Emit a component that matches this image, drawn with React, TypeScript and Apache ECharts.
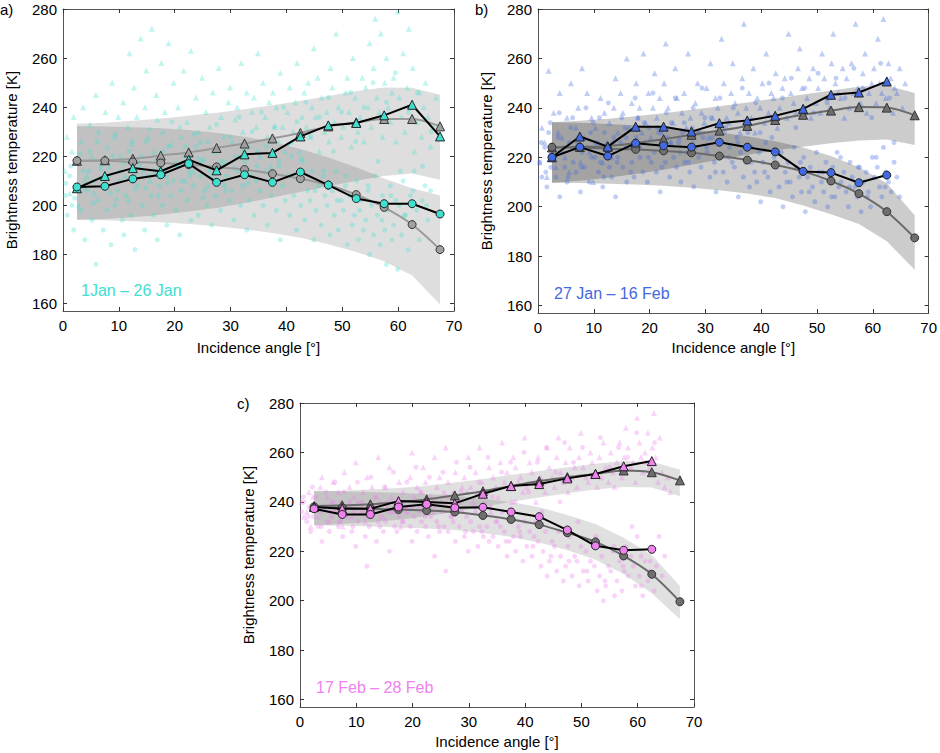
import { useEffect, useRef } from "react";
import * as echarts from "echarts";

// incidence angle bin centres (deg)
const angleBins = [2.5, 7.5, 12.5, 17.5, 22.5, 27.5, 32.5, 37.5, 42.5, 47.5, 52.5, 57.5, 62.5, 67.5];
const yTicks = [160, 180, 200, 220, 240, 260, 280];

// ---- panel a) 1 Jan - 26 Jan
const aTriObs = [207, 212, 215.2, 213.9, 218.6, 214.3, 220.8, 221.4, 228.1, 232.6, 233.6, 236.7, 241.0, 228.1];
const aCircObs = [207.5, 207.8, 210.8, 212.5, 217.0, 209.4, 212.5, 209.4, 213.6, 208.3, 202.8, 200.7, 200.7, 196.5];
const aTriFit = [218.2, 218.4, 219.0, 220.3, 221.6, 223.4, 225.2, 227.3, 229.5, 232.2, 233.8, 235.2, 235.2, 232.2];
const aCircFit = [218.2, 218.2, 217.7, 217.3, 216.6, 215.7, 214.6, 212.9, 210.9, 208.3, 204.4, 199.2, 192.2, 182.0];
const aTriBandHigh = [233.3, 233.7, 234.5, 235.4, 236.5, 237.7, 239.2, 240.8, 242.6, 244.6, 246.6, 248.0, 247.9, 245.1];
const aTriBandLow = [194.2, 194.5, 195.2, 196.2, 197.5, 199, 201, 203.2, 205.5, 207.8, 210, 212, 213, 210.5];
const aCircBandHigh = [232.2, 232.1, 231.8, 231.4, 230.7, 229.6, 228.0, 225.8, 223.0, 219.5, 215.5, 211.0, 207, 204];
const aCircBandLow = [194.2, 194.0, 193.6, 193.1, 192.4, 191.5, 190.3, 188.8, 186.8, 184.2, 181.0, 177.3, 171.5, 159.6];
const aTriPoints = [
  [0.3,214],[0.7,228],[1.2,205],[1.6,222],[1.9,236],[2.3,218],[2.8,200],[3.2,226],[3.6,240],[3.9,210],[4.3,212],[4.8,233],
  [5.2,220],[5.6,205],[5.9,245],[6.3,230],[6.8,215],[7.2,209],[7.6,238],[7.9,224],[8.3,216],[8.8,250],[9.2,228],[9.6,203],
  [9.9,236],[10.3,220],[10.8,242],[11.2,212],[11.6,232],[11.9,262],[12.3,225],[12.7,248],[12.9,207],[13.2,236],[13.6,218],
  [13.9,268],[14.3,214],[14.7,240],[14.9,255],[15.2,228],[15.6,210],[15.9,272],[16.3,222],[16.7,245],[16.9,235],[17.2,216],
  [17.6,258],[17.9,230],[18.2,238],[18.6,212],[18.9,266],[19.3,225],[19.8,250],[20.2,218],[20.6,240],[20.9,232],[21.2,228],
  [21.6,255],[21.9,210],[22.2,234],[22.6,220],[22.9,263],[23.3,214],[23.8,244],[24.2,230],[24.6,226],[24.9,252],[25.2,219],
  [25.6,238],[25.9,208],[26.3,232],[26.8,246],[27.2,222],[27.6,214],[27.9,256],[28.3,236],[28.8,228],[29.2,218],[29.6,242],
  [29.9,248],[30.3,226],[30.8,235],[31.2,240],[31.6,220],[31.9,258],[32.2,230],[32.6,216],[32.9,246],[33.3,224],[33.8,238],
  [34.2,244],[34.6,232],[34.9,262],[35.3,220],[35.8,250],[36.2,236],[36.6,228],[36.9,242],[37.2,216],[37.6,246],[37.9,232],
  [38.2,240],[38.6,226],[38.9,254],[39.3,232],[39.8,222],[40.2,238],[40.6,248],[40.9,226],[41.2,230],[41.6,242],[41.9,258],
  [42.3,222],[42.8,236],[43.2,246],[43.6,232],[43.9,250],[44.2,228],[44.6,240],[44.9,264],[45.2,236],[45.6,252],[45.9,222],
  [46.3,244],[46.8,230],[47.2,238],[47.6,226],[47.9,256],[48.2,248],[48.6,234],[48.9,270],[49.3,240],[49.8,228],[50.2,232],
  [50.6,246],[50.9,252],[51.2,238],[51.6,224],[51.9,260],[52.3,244],[52.8,230],[53.2,236],[53.6,252],[53.9,226],[54.2,248],
  [54.6,240],[54.9,266],[55.2,232],[55.6,256],[55.9,276],[56.2,244],[56.6,238],[56.9,270],[57.2,228],[57.6,250],[57.9,260],
  [58.2,240],[58.6,234],[58.9,246],[59.2,252],[59.6,226],[59.9,279],[60.2,244],[60.6,236],[60.9,262],[61.2,230],[61.6,248],
  [61.9,272],[62.2,240],[62.6,256],[62.9,222],[63.3,234],[63.8,246],[64.2,228],[64.6,240],[64.9,250],[65.3,236],[65.8,224],
  [66.3,232],[66.8,244]
];
const aCircPoints = [
  [0.4,204],[0.8,196],[1.2,212],[1.6,200],[1.9,190],[2.3,208],[2.8,218],[3.2,198],[3.6,214],[3.9,186],[4.3,206],[4.8,222],
  [5.2,194],[5.6,210],[5.9,176],[6.3,202],[6.8,216],[7.2,190],[7.6,208],[7.9,198],[8.2,212],[8.6,184],[8.9,220],[9.3,200],
  [9.8,206],[10.2,214],[10.6,194],[10.9,188],[11.3,204],[11.8,222],[12.2,196],[12.6,210],[12.9,182],[13.3,208],[13.8,216],
  [14.2,200],[14.6,190],[14.9,226],[15.3,212],[15.8,204],[16.2,196],[16.6,218],[16.9,186],[17.3,208],[17.8,200],[18.2,214],
  [18.6,192],[18.9,224],[19.3,204],[19.8,210],[20.2,198],[20.6,216],[20.9,188],[21.3,210],[21.8,220],[22.2,202],[22.6,214],
  [22.9,194],[23.3,208],[23.8,224],[24.2,196],[24.6,212],[24.9,218],[25.3,206],[25.8,200],[26.2,214],[26.6,192],[26.9,222],
  [27.3,204],[27.8,210],[28.2,198],[28.6,216],[28.9,208],[29.3,212],[29.8,202],[30.2,206],[30.6,194],[30.9,220],[31.3,214],
  [31.8,200],[32.2,208],[32.6,218],[32.9,190],[33.3,202],[33.8,212],[34.2,196],[34.6,210],[34.9,222],[35.3,206],[35.8,200],
  [36.2,214],[36.6,192],[36.9,226],[37.3,204],[37.8,210],[38.2,198],[38.6,216],[38.9,186],[39.3,208],[39.8,202],[40.2,212],
  [40.6,196],[40.9,220],[41.3,204],[41.8,190],[42.2,210],[42.6,200],[42.9,218],[43.3,194],[43.8,206],[44.2,202],[44.6,214],
  [44.9,186],[45.3,198],[45.8,208],[46.2,192],[46.6,212],[46.9,204],[47.3,200],[47.8,188],[48.2,206],[48.6,196],[48.9,214],
  [49.3,190],[49.8,202],[50.2,198],[50.6,208],[50.9,184],[51.3,204],[51.8,192],[52.2,196],[52.6,210],[52.9,186],[53.3,202],
  [53.8,190],[54.2,194],[54.6,206],[54.9,180],[55.2,200],[55.6,188],[55.9,212],[56.3,196],[56.8,184],[57.2,204],[57.6,190],
  [57.9,176],[58.2,198],[58.6,208],[58.9,186],[59.2,192],[59.6,202],[59.9,174],[60.2,200],[60.6,188],[60.9,210],[61.3,196],
  [61.8,182],[62.2,204],[62.6,192],[62.9,214],[63.3,198],[63.8,186],[64.3,202],[64.8,208],[65.3,194],[65.8,206]
];
const aCorePoints = [
  [0.5,209],[1.4,216],[2.1,203],[3.0,221],[3.8,207],[4.6,214],[5.4,201],[6.1,226],[6.9,211],[7.7,218],[8.5,205],[9.4,229],
  [10.1,210],[10.9,217],[11.7,202],[12.4,226],[13.1,212],[14.0,220],[14.8,207],[15.5,231],[16.4,214],[17.1,204],[17.9,222],
  [18.7,209],[19.5,234],[20.4,216],[21.1,206],[21.9,224],[22.7,212],[23.5,229],[24.4,219],[25.1,203],[25.9,226],[26.7,212],
  [27.5,233],[28.4,218],[29.1,206],[29.9,228],[30.7,215],[31.5,236],[32.4,222],[33.1,209],[33.9,230],[34.7,216],[35.5,238],
  [36.4,224],[37.1,210],[37.9,232],[38.7,218],[39.5,240],[40.4,225],[41.1,212],[41.9,234],[42.7,219],[43.5,242],[44.4,228],
  [45.1,206],[45.9,236],[46.7,214],[47.5,244],[48.4,222],[49.1,202],[49.9,238],[50.7,212],[51.5,246],[52.4,226],[53.1,198],
  [53.9,240],[54.7,208],[55.5,250],[56.4,218],[57.1,194],[57.9,242],[58.7,204],[59.5,254],[60.4,214],[61.1,196],[61.9,238],
  [62.7,206],[63.5,246],[64.4,216],[65.1,200],[65.9,230]
];

// ---- panel b) 27 Jan - 16 Feb
const bTriObs = [220.0, 228.4, 224.3, 232.4, 232.4, 230.4, 233.8, 234.9, 236.8, 239.6, 245.3, 246.2, 250.7];
const bCircObs = [220.0, 224.1, 220.5, 225.7, 224.7, 224.1, 226.1, 224.1, 222.2, 214.3, 213.8, 209.7, 212.8];
const bTriFit = [224.0, 224.2, 224.5, 225.8, 227.3, 229.1, 230.8, 232.7, 235.1, 237.2, 238.9, 240.3, 240.1, 237.0];
const bCircFit = [224.1, 224.0, 223.5, 223.2, 222.6, 221.8, 220.5, 218.9, 216.9, 214.3, 210.4, 205.3, 198.0, 187.4];
const bTriBandHigh = [234.2, 234.8, 235.6, 236.6, 237.8, 239.2, 240.7, 242.2, 243.8, 245.4, 247, 248.5, 249, 246];
const bTriBandLow = [209.7, 210.5, 211.7, 213.2, 215, 217, 219, 221, 222.7, 224.3, 225.7, 226.8, 227.2, 225];
const bCircBandHigh = [234.2, 234.0, 233.5, 233, 232.3, 231.3, 230, 228.5, 226.5, 224, 220.5, 216, 209.5, 196.5];
const bCircBandLow = [209.7, 209.6, 209.3, 209, 208.5, 207.7, 206.7, 205.3, 203.5, 200.5, 197, 193, 186, 174.5];
const bTriPoints = [
  [0.3,218],[0.7,232],[1.2,226],[1.6,212],[1.9,255],[2.3,222],[2.8,238],[3.2,216],[3.6,230],[3.9,246],[4.3,228],[4.8,220],
  [5.2,236],[5.6,214],[5.9,250],[6.3,224],[6.8,232],[7.2,240],[7.6,218],[7.9,256],[8.3,228],[8.8,246],[9.2,222],[9.6,236],
  [9.9,210],[10.3,232],[10.8,226],[11.2,244],[11.6,218],[11.9,238],[12.3,226],[12.8,234],[13.2,220],[13.6,240],[13.9,252],
  [14.3,230],[14.8,246],[15.2,238],[15.6,224],[15.9,260],[16.3,232],[16.8,242],[17.2,226],[17.6,250],[17.9,236],[18.2,240],
  [18.6,230],[18.9,262],[19.3,234],[19.8,246],[20.2,228],[20.6,240],[20.9,254],[21.3,236],[21.8,244],[22.2,230],[22.6,250],
  [22.9,266],[23.3,240],[23.8,226],[24.2,234],[24.6,256],[24.9,244],[25.3,228],[25.8,238],[26.2,246],[26.6,232],[26.9,262],
  [27.3,236],[27.8,226],[28.2,242],[28.6,250],[28.9,230],[29.3,238],[29.8,234],[30.2,248],[30.6,228],[30.9,258],[31.3,236],
  [31.8,244],[32.2,240],[32.6,230],[32.9,268],[33.3,250],[33.8,236],[34.2,234],[34.6,246],[34.9,258],[35.3,242],[35.8,238],
  [36.2,230],[36.6,252],[36.9,274],[37.3,240],[37.8,246],[38.2,236],[38.6,256],[38.9,230],[39.3,244],[39.8,240],[40.2,250],
  [40.6,234],[40.9,262],[41.3,238],[41.8,246],[42.2,244],[42.6,254],[42.9,232],[43.3,240],[43.8,248],[44.2,252],[44.6,236],
  [44.9,270],[45.3,246],[45.8,242],[46.2,238],[46.6,256],[46.9,264],[47.3,248],[47.8,240],[48.2,244],[48.6,252],[48.9,236],
  [49.3,256],[49.8,242],[50.2,248],[50.6,238],[50.9,262],[51.3,252],[51.8,244],[52.2,240],[52.6,258],[52.9,270],[53.3,250],
  [53.8,246],[54.2,244],[54.6,256],[54.9,236],[55.3,252],[55.8,240],[56.2,258],[56.6,246],[56.9,274],[57.3,248],[57.8,242],
  [58.2,254],[58.6,262],[58.9,238],[59.3,246],[59.8,250],[60.2,256],[60.6,242],[60.9,268],[61.2,250],[61.6,246],[61.9,276],
  [62.3,244],[62.8,258],[63.2,252],[63.6,238],[63.9,248],[64.3,246],[64.8,256],[65.3,240],[65.8,250]
];
const bCircPoints = [
  [0.3,218],[0.7,212],[1.2,224],[1.6,208],[1.9,230],[2.3,216],[2.8,220],[3.2,212],[3.6,228],[3.9,204],[4.3,222],[4.8,216],
  [5.2,210],[5.6,226],[5.9,232],[6.3,218],[6.8,214],[7.2,228],[7.6,206],[7.9,222],[8.3,216],[8.8,224],[9.2,210],[9.6,220],
  [9.9,234],[10.3,226],[10.8,214],[11.2,218],[11.6,208],[11.9,230],[12.3,222],[12.8,216],[13.2,212],[13.6,228],[13.9,204],
  [14.3,220],[14.8,226],[15.2,216],[15.6,232],[15.9,210],[16.3,224],[16.8,218],[17.2,212],[17.6,228],[17.9,236],[18.3,220],
  [18.8,214],[19.2,226],[19.6,210],[19.9,232],[20.3,218],[20.8,222],[21.2,214],[21.6,230],[21.9,206],[22.3,224],[22.8,218],
  [23.2,228],[23.6,212],[23.9,234],[24.3,220],[24.8,216],[25.2,226],[25.6,210],[25.9,230],[26.3,218],[26.8,222],[27.2,214],
  [27.6,232],[27.9,208],[28.3,224],[28.8,220],[29.2,216],[29.6,228],[29.9,236],[30.3,222],[30.8,212],[31.2,228],[31.6,218],
  [31.9,206],[32.3,220],[32.8,226],[33.2,214],[33.6,232],[33.9,210],[34.3,224],[34.8,218],[35.2,216],[35.6,228],[35.9,204],
  [36.3,222],[36.8,212],[37.2,218],[37.6,230],[37.9,208],[38.3,224],[38.8,214],[39.2,210],[39.6,222],[39.9,202],[40.3,218],
  [40.8,226],[41.2,212],[41.6,206],[41.9,228],[42.3,220],[42.8,216],[43.2,208],[43.6,222],[43.9,200],[44.3,214],[44.8,218],
  [45.2,210],[45.6,204],[45.9,224],[46.3,216],[46.8,212],[47.2,206],[47.6,220],[47.9,198],[48.3,212],[48.8,216],[49.2,208],
  [49.6,202],[49.9,222],[50.3,214],[50.8,210],[51.2,206],[51.6,218],[51.9,200],[52.3,212],[52.8,216],[53.2,204],[53.6,222],
  [53.9,208],[54.3,210],[54.8,214],[55.2,206],[55.6,200],[55.9,218],[56.3,212],[56.8,208],[57.2,204],[57.6,216],[57.9,198],
  [58.3,210],[58.8,214],[59.2,206],[59.6,200],[59.9,220],[60.3,212],[60.8,216],[61.2,208],[61.6,204],[61.9,224],[62.3,214],
  [62.8,210],[63.3,206],[63.8,218],[64.3,212],[64.8,204]
];
const bCorePoints = [
  [0.6,226],[1.4,214],[2.2,234],[3.0,220],[3.8,238],[4.6,224],[5.4,212],[6.2,236],[7.0,226],[7.8,216],[8.6,240],[9.4,230],
  [10.2,220],[11.0,236],[11.8,212],[12.6,242],[13.4,226],[14.2,218],[15.0,236],[15.8,228],[16.6,214],[17.4,244],[18.2,224],
  [19.0,234],[19.8,220],[20.6,246],[21.4,232],[22.2,216],[23.0,238],[23.8,226],[24.6,244],[25.4,222],[26.2,234],[27.0,218],
  [27.8,240],[28.6,230],[29.4,248],[30.2,224],[31.0,236],[31.8,214],[32.6,244],[33.4,230],[34.2,220],[35.0,240],[35.8,226],
  [36.6,248],[37.4,234],[38.2,218],[39.0,242],[39.8,230],[40.6,214],[41.4,250],[42.2,236],[43.0,222],[43.8,244],[44.6,210],
  [45.4,252],[46.2,232],[47.0,218],[47.8,248],[48.6,206],[49.4,238],[50.2,254],[51.0,214],[51.8,242],[52.6,204],[53.4,252],
  [54.2,220],[55.0,244],[55.8,208],[56.6,256],[57.4,216],[58.2,248],[59.0,204],[59.8,236],[60.6,220],[61.4,258],[62.2,208],
  [63.0,244],[63.8,226]
];

// ---- panel c) 17 Feb - 28 Feb
const cTriObs = [237.9, 237.2, 237.2, 240.3, 239.9, 239.4, 243.3, 246.4, 247.2, 249.5, 251.3, 254.4, 256.5];
const cCircObs = [237.2, 234.9, 234.9, 237.9, 239.0, 237.6, 237.8, 235.9, 234.0, 228.6, 222.2, 220.4, 220.8];
const cTriFit = [238.3, 238.6, 239.0, 239.9, 241.0, 242.6, 244.3, 246.4, 248.4, 250.0, 251.3, 252.7, 252.0, 248.7];
const cCircFit = [238.0, 237.6, 237.2, 236.9, 236.5, 235.9, 234.5, 232.9, 230.8, 227.5, 223.8, 218.1, 210.7, 199.6];
const cTriBandHigh = [244.3, 244.5, 245, 245.6, 246.5, 247.8, 249.3, 250.9, 252.5, 254, 255.4, 256.5, 256.2, 253.1];
const cTriBandLow = [230.5, 231, 231.8, 232.8, 234.2, 236, 238, 240, 241.8, 243.5, 245, 246, 245.8, 242.3];
const cCircBandHigh = [244.5, 244.3, 244, 243.7, 243.2, 242.6, 241.4, 239.9, 237.8, 234.7, 231, 225.5, 218.5, 206];
const cCircBandLow = [230.5, 230.3, 230, 229.6, 229.2, 228.6, 227.4, 225.8, 223.6, 220.4, 216.6, 210.8, 203, 192.5];
const cTriPoints = [
  [0.3,240],[0.7,234],[1.2,236],[1.6,244],[1.9,230],[2.3,242],[2.8,238],[3.2,234],[3.6,246],[3.9,250],[4.3,238],[4.8,242],
  [5.2,232],[5.6,240],[5.9,248],[6.3,236],[6.8,244],[7.2,240],[7.6,230],[7.9,252],[8.3,238],[8.8,246],[9.2,234],[9.6,242],
  [9.9,256],[10.3,240],[10.8,236],[11.2,244],[11.6,232],[11.9,250],[12.3,238],[12.8,246],[13.2,236],[13.6,242],[13.9,258],
  [14.3,240],[14.8,234],[15.2,246],[15.6,238],[15.9,254],[16.3,242],[16.8,236],[17.2,240],[17.6,248],[17.9,230],[18.3,244],
  [18.8,238],[19.2,236],[19.6,250],[19.9,260],[20.3,242],[20.8,246],[21.2,238],[21.6,244],[21.9,254],[22.3,248],[22.8,240],
  [23.2,242],[23.6,236],[23.9,258],[24.3,246],[24.8,250],[25.2,240],[25.6,244],[25.9,262],[26.3,248],[26.8,238],[27.2,244],
  [27.6,252],[27.9,236],[28.3,240],[28.8,246],[29.2,250],[29.6,244],[29.9,258],[30.3,246],[30.8,240],[31.2,252],[31.6,244],
  [31.9,262],[32.3,248],[32.8,240],[33.2,244],[33.6,254],[33.9,236],[34.3,250],[34.8,246],[35.2,242],[35.6,256],[35.9,264],
  [36.3,248],[36.8,252],[37.2,246],[37.6,240],[37.9,258],[38.3,254],[38.8,248],[39.2,250],[39.6,244],[39.9,266],[40.3,246],
  [40.8,256],[41.2,252],[41.6,248],[41.9,240],[42.3,258],[42.8,250],[43.2,248],[43.6,244],[43.9,262],[44.3,254],[44.8,250],
  [45.2,246],[45.6,258],[45.9,266],[46.3,252],[46.8,248],[47.2,256],[47.6,244],[47.9,262],[48.3,250],[48.8,254],[49.2,246],
  [49.6,258],[49.9,268],[50.3,254],[50.8,250],[51.2,248],[51.6,260],[51.9,256],[52.3,252],[52.8,246],[53.2,258],[53.6,250],
  [53.9,264],[54.3,254],[54.8,248],[55.2,260],[55.6,252],[55.9,246],[56.3,256],[56.8,264],[57.2,250],[57.6,258],[57.9,270],
  [58.3,262],[58.8,254],[59.2,256],[59.6,248],[59.9,274],[60.3,264],[60.6,258],[60.9,252],[61.3,260],[61.8,268],[62.2,254],
  [62.6,262],[62.9,276],[63.2,258],[63.6,248],[63.9,266],[64.3,252],[64.8,246],[65.3,250],[65.8,244]
];
const cCircPoints = [
  [0.3,236],[0.7,240],[1.2,232],[1.6,238],[1.9,228],[2.3,234],[2.8,242],[3.2,230],[3.6,236],[3.9,224],[4.3,238],[4.8,232],
  [5.2,228],[5.6,234],[5.9,240],[6.3,236],[6.8,230],[7.2,232],[7.6,226],[7.9,238],[8.3,234],[8.8,240],[9.2,228],[9.6,236],
  [9.9,222],[10.3,232],[10.8,238],[11.2,236],[11.6,226],[11.9,214],[12.3,230],[12.8,234],[13.2,238],[13.6,224],[13.9,232],
  [14.3,234],[14.8,228],[15.2,232],[15.6,240],[15.9,220],[16.3,236],[16.8,230],[17.2,228],[17.6,234],[17.9,238],[18.3,232],
  [18.8,236],[19.2,238],[19.6,230],[19.9,224],[20.3,234],[20.8,228],[21.2,236],[21.6,232],[21.9,240],[22.3,230],[22.8,226],
  [23.2,234],[23.6,238],[23.9,218],[24.3,232],[24.8,228],[25.2,236],[25.6,230],[25.9,212],[26.3,228],[26.8,234],[27.2,232],
  [27.6,224],[27.9,238],[28.3,230],[28.8,236],[29.2,226],[29.6,234],[29.9,220],[30.3,232],[30.8,228],[31.2,236],[31.6,222],
  [31.9,230],[32.3,228],[32.8,234],[33.2,230],[33.6,224],[33.9,238],[34.3,226],[34.8,232],[35.2,222],[35.6,230],[35.9,236],
  [36.3,228],[36.8,218],[37.2,224],[37.6,232],[37.9,226],[38.3,220],[38.8,230],[39.2,226],[39.6,216],[39.9,232],[40.3,222],
  [40.8,228],[41.2,218],[41.6,226],[41.9,232],[42.3,224],[42.8,214],[43.2,220],[43.6,228],[43.9,210],[44.3,216],[44.8,224],
  [45.2,222],[45.6,212],[45.9,228],[46.3,218],[46.8,208],[47.2,214],[47.6,222],[47.9,226],[48.3,210],[48.8,218],[49.2,216],
  [49.6,206],[49.9,222],[50.3,212],[50.8,220],[51.2,208],[51.6,216],[51.9,224],[52.3,214],[52.8,204],[53.2,210],[53.6,218],
  [53.9,200],[54.3,206],[54.8,214],[55.2,212],[55.6,220],[55.9,202],[56.3,208],[56.8,216],[57.2,204],[57.6,212],[57.9,222],
  [58.3,210],[58.8,218],[59.2,214],[59.6,206],[59.9,226],[60.3,210],[60.6,218],[60.9,202],[61.3,216],[61.8,208],[62.2,212],
  [62.6,220],[62.9,204],[63.3,214],[63.8,226],[64.3,210],[64.8,218]
];
const cCorePoints = [
  [0.6,242],[1.4,234],[2.2,246],[3.0,238],[3.8,230],[4.6,244],[5.4,236],[6.2,248],[7.0,232],[7.8,244],[8.6,238],[9.4,230],
  [10.2,248],[11.0,240],[11.8,234],[12.6,250],[13.4,242],[14.2,230],[15.0,246],[15.8,236],[16.6,252],[17.4,240],[18.2,232],
  [19.0,248],[19.8,238],[20.6,254],[21.4,244],[22.2,234],[23.0,250],[23.8,240],[24.6,230],[25.4,252],[26.2,242],[27.0,234],
  [27.8,256],[28.6,244],[29.4,228],[30.2,254],[31.0,238],[31.8,248],[32.6,226],[33.4,258],[34.2,242],[35.0,232],[35.8,252],
  [36.6,224],[37.4,256],[38.2,240],[39.0,228],[39.8,260],[40.6,244],[41.4,222],[42.2,256],[43.0,236],[43.8,262],[44.6,218],
  [45.4,252],[46.2,240],[47.0,264],[47.8,216],[48.6,256],[49.4,232],[50.2,262],[51.0,212],[51.8,250],[52.6,226],[53.4,266],
  [54.2,208],[55.0,254],[55.8,222],[56.6,262],[57.4,214],[58.2,258],[59.0,230],[59.8,268],[60.6,206],[61.4,256],[62.2,216],
  [63.0,264]
];

const FONT = "Liberation Sans, Arial, Helvetica, sans-serif";

type Panel = {
  grid: { left: number; top: number; width: number; height: number };
  color: string;
  label: string;
  letter: string;
  triObs: number[];
  circObs: number[];
  triFit: number[];
  circFit: number[];
  triBand: [number[], number[]];
  circBand: [number[], number[]];
  triPts: number[][];
  circPts: number[][];
  corePts: number[][];
  band: string;
  fitLine: string;
  fitFill: string;
  xNameGap: number;
};

const panels: Panel[] = [
  {
    grid: { left: 63, top: 9, width: 391, height: 302 },
    color: "#40E0D0",
    label: "1Jan – 26 Jan",
    letter: "a)",
    triObs: aTriObs,
    circObs: aCircObs,
    triFit: aTriFit,
    circFit: aCircFit,
    triBand: [aTriBandLow, aTriBandHigh],
    circBand: [aCircBandLow, aCircBandHigh],
    triPts: aTriPoints,
    circPts: aCircPoints,
    corePts: aCorePoints,
    band: "rgba(0,0,0,0.13)",
    fitLine: "#9a9a9a",
    fitFill: "#a0a0a0",
    xNameGap: 29
  },
  {
    grid: { left: 538, top: 9, width: 392, height: 304 },
    color: "#4169E1",
    label: "27 Jan – 16 Feb",
    letter: "b)",
    triObs: bTriObs,
    circObs: bCircObs,
    triFit: bTriFit,
    circFit: bCircFit,
    triBand: [bTriBandLow, bTriBandHigh],
    circBand: [bCircBandLow, bCircBandHigh],
    triPts: bTriPoints,
    circPts: bCircPoints,
    corePts: bCorePoints,
    band: "rgba(0,0,0,0.2)",
    fitLine: "#6a6a6a",
    fitFill: "#6e6e6e",
    xNameGap: 27
  },
  {
    grid: { left: 300, top: 403, width: 394, height: 304 },
    color: "#EE82EE",
    label: "17 Feb – 28 Feb",
    letter: "c)",
    triObs: cTriObs,
    circObs: cCircObs,
    triFit: cTriFit,
    circFit: cCircFit,
    triBand: [cTriBandLow, cTriBandHigh],
    circBand: [cCircBandLow, cCircBandHigh],
    triPts: cTriPoints,
    circPts: cCircPoints,
    corePts: cCorePoints,
    band: "rgba(0,0,0,0.12)",
    fitLine: "#6a6a6a",
    fitFill: "#6e6e6e",
    xNameGap: 27
  }
];

function zip(ys: number[]): number[][] {
  return ys.map((y, i) => [angleBins[i], y]);
}

// one filled polygon between low and high edges, drawn through the axes' scales
function bandSeries(low: number[], high: number[], color: string, xi: number, yi: number) {
  return {
    type: "custom",
    xAxisIndex: xi,
    yAxisIndex: yi,
    data: angleBins.map((x, j) => [x, low[j], high[j]]),
    encode: { x: 0, y: [1, 2] },
    silent: true,
    z: 1,
    renderItem: (params: any, api: any) => {
      if (params.dataIndex !== 0) {
        return null;
      }
      const pts: number[][] = [];
      for (let j = 0; j < angleBins.length; j++) {
        pts.push(api.coord([angleBins[j], high[j]]));
      }
      for (let j = angleBins.length - 1; j >= 0; j--) {
        pts.push(api.coord([angleBins[j], low[j]]));
      }
      return { type: "polygon", shape: { points: pts }, style: { fill: color } };
    }
  };
}

function buildOption() {
  const grids: any[] = [];
  const xAxes: any[] = [];
  const yAxes: any[] = [];
  const series: any[] = [];
  const graphics: any[] = [];

  panels.forEach((p, i) => {
    grids.push({ ...p.grid, containLabel: false });
    const axisLine = { show: true, onZero: false, lineStyle: { color: "#555", width: 1 } };
    const tick = { show: true, inside: true, length: 4, lineStyle: { color: "#333" } };
    xAxes.push(
      {
        type: "value",
        gridIndex: i,
        min: 0,
        max: 70,
        interval: 10,
        position: "bottom",
        axisLine,
        axisTick: tick,
        splitLine: { show: false },
        axisLabel: { color: "#000", fontFamily: FONT, fontSize: 15, margin: 7 },
        name: "Incidence angle [°]",
        nameLocation: "middle",
        nameGap: p.xNameGap,
        nameTextStyle: { color: "#000", fontFamily: FONT, fontSize: 15 }
      },
      {
        type: "value",
        gridIndex: i,
        min: 0,
        max: 70,
        interval: 10,
        position: "top",
        axisLine,
        axisTick: tick,
        splitLine: { show: false },
        axisLabel: { show: false }
      }
    );
    yAxes.push(
      {
        type: "value",
        gridIndex: i,
        min: 157,
        max: 280,
        position: "left",
        axisLine,
        axisTick: { ...tick, customValues: yTicks },
        splitLine: { show: false },
        axisLabel: { color: "#000", fontFamily: FONT, fontSize: 15, margin: 6, customValues: yTicks },
        name: "Brightness temperature [K]",
        nameLocation: "middle",
        nameGap: 44,
        nameTextStyle: { color: "#000", fontFamily: FONT, fontSize: 15 }
      },
      {
        type: "value",
        gridIndex: i,
        min: 157,
        max: 280,
        position: "right",
        axisLine,
        axisTick: { ...tick, customValues: yTicks },
        splitLine: { show: false },
        axisLabel: { show: false }
      }
    );

    const xi = i * 2;
    const yi = i * 2;

    series.push(
      bandSeries(p.triBand[0], p.triBand[1], p.band, xi, yi),
      bandSeries(p.circBand[0], p.circBand[1], p.band, xi, yi)
    );

    // individual observations
    const dots = (data: number[][], symbol: string, size: number) => ({
      type: "scatter",
      xAxisIndex: xi,
      yAxisIndex: yi,
      data,
      symbol,
      symbolSize: size,
      itemStyle: { color: p.color, opacity: 0.33 },
      silent: true,
      z: 2
    });
    series.push(dots(p.triPts, "triangle", 6), dots(p.circPts, "circle", 5), dots(p.corePts, "circle", 5));

    // model fits (grey)
    const fitStyle = (data: number[], symbol: string, size: number) => ({
      type: "line",
      xAxisIndex: xi,
      yAxisIndex: yi,
      data: zip(data),
      smooth: 0.3,
      symbol,
      symbolSize: size,
      showAllSymbol: true,
      lineStyle: { color: p.fitLine, width: 2 },
      itemStyle: { color: p.fitFill, borderColor: "#333", borderWidth: 1 },
      z: 3
    });
    series.push(fitStyle(p.triFit, "triangle", 9), fitStyle(p.circFit, "circle", 8));

    // binned means (black)
    const obsStyle = (data: number[], symbol: string, size: number) => ({
      type: "line",
      xAxisIndex: xi,
      yAxisIndex: yi,
      data: zip(data),
      symbol,
      symbolSize: size,
      showAllSymbol: true,
      lineStyle: { color: "#000", width: 2 },
      itemStyle: { color: p.color, borderColor: "#222", borderWidth: 1 },
      z: 4
    });
    series.push(obsStyle(p.triObs, "triangle", 9), obsStyle(p.circObs, "circle", 8));

    graphics.push(
      {
        type: "text",
        left: p.grid.left - 63,
        top: p.grid.top - 7,
        style: { text: p.letter, fill: "#000", font: `15px ${FONT}` }
      },
      {
        type: "text",
        left: p.grid.left + (i === 0 ? 18 : 16),
        top: p.grid.top + p.grid.height - (i === 0 ? 29 : 28),
        style: { text: p.label, fill: p.color, font: `16px ${FONT}` }
      }
    );
  });

  return {
    animation: false,
    backgroundColor: "#fff",
    grid: grids,
    xAxis: xAxes,
    yAxis: yAxes,
    series,
    graphic: graphics
  };
}

export default function App() {
  const ref = useRef<HTMLDivElement | null>(null);

  useEffect(() => {
    if (!ref.current) {
      return;
    }
    const chart = echarts.init(ref.current, undefined, { renderer: "svg" });
    chart.setOption(buildOption());
    return () => {
      chart.dispose();
    };
  }, []);

  return (
    <div
      ref={ref}
      style={{ position: "absolute", left: 0, top: 0, width: 940, height: 753, background: "#fff" }}
    />
  );
}
